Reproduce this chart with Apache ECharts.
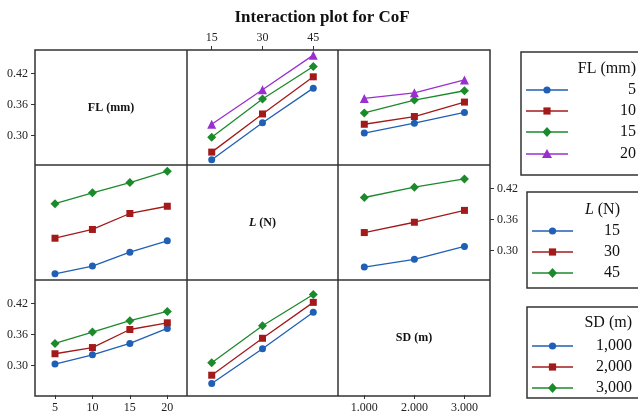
<!DOCTYPE html>
<html><head><meta charset="utf-8">
<script src="https://cdn.jsdelivr.net/npm/echarts@6/dist/echarts.min.js"></script>
<style>html,body{margin:0;padding:0;background:#fff}#c{width:638px;height:414px}</style>
</head><body><div id="c"></div>
<script>
// ---- data ----
const FL = [5, 10, 15, 20];
const L = [15, 30, 45];
const SD = [1000, 2000, 3000];
const yTicks = [0.30, 0.36, 0.42];
const flNames = ['5', '10', '15', '20'];
const lNames = ['15', '30', '45'];
const sdNames = ['1,000', '2,000', '3,000'];
const sdTickLabels = ['1.000', '2.000', '3.000'];

// Row 1: traces by FL
const cofFLvsL = [
  [0.253, 0.325, 0.392],
  [0.268, 0.342, 0.414],
  [0.297, 0.371, 0.434],
  [0.322, 0.389, 0.456]
];
const cofFLvsSD = [
  [0.305, 0.324, 0.345],
  [0.322, 0.337, 0.365],
  [0.344, 0.369, 0.387],
  [0.372, 0.383, 0.408]
];
// Row 2: traces by L
const cofLvsFL = [
  [0.255, 0.270, 0.297, 0.319],
  [0.324, 0.341, 0.372, 0.386],
  [0.391, 0.412, 0.432, 0.454]
];
const cofLvsSD = [
  [0.268, 0.283, 0.308],
  [0.335, 0.355, 0.378],
  [0.403, 0.423, 0.439]
];
// Row 3: traces by SD
const cofSDvsFL = [
  [0.303, 0.321, 0.343, 0.372],
  [0.323, 0.335, 0.370, 0.383],
  [0.343, 0.365, 0.387, 0.405]
];
const cofSDvsL = [
  [0.267, 0.334, 0.404],
  [0.283, 0.354, 0.423],
  [0.307, 0.378, 0.438]
];

// ---- styling / layout ----
const colors = ['#1f5fb5', '#a31a1a', '#1b8a2b', '#9a2fd0'];
const symbols = ['circle', 'rect', 'diamond', 'triangle'];
const symSizes = [7, 7, 9, 9];
const SERIF = 'Liberation Serif, Times New Roman, serif';
const colEdges = [35, 187, 338, 490];
const rowEdges = [50, 165, 280, 396];
const yMin = 0.243, yMax = 0.466;
const colAxes = [
  { min: 2.33, max: 22.63, ticks: FL, fmt: v => String(v) },
  { min: 7.7, max: 52.3, ticks: L, fmt: v => String(v) },
  { min: 475, max: 3510, ticks: SD, fmt: v => sdTickLabels[SD.indexOf(v)] }
];
const colX = [FL, L, SD];
const cellData = {
  '0,1': cofFLvsL, '0,2': cofFLvsSD,
  '1,0': cofLvsFL, '1,2': cofLvsSD,
  '2,0': cofSDvsFL, '2,1': cofSDvsL
};
const rowNames = [flNames, lNames, sdNames];
const rowVar = ['FL', 'L', 'SD'];

const grids = [], xAxes = [], yAxes = [], series = [];
for (let r = 0; r < 3; r++) {
  for (let c = 0; c < 3; c++) {
    const g = r * 3 + c;
    grids.push({
      left: colEdges[c], top: rowEdges[r],
      width: colEdges[c + 1] - colEdges[c], height: rowEdges[r + 1] - rowEdges[r],
      containLabel: false
    });
    const showX = (r === 0 && c === 1) || (r === 2 && c !== 1);
    const ca = colAxes[c];
    xAxes.push({
      gridIndex: g, type: 'value', min: ca.min, max: ca.max,
      position: (r === 0 && c === 1) ? 'top' : 'bottom',
      axisLine: { show: false }, splitLine: { show: false },
      axisTick: { show: showX, customValues: ca.ticks, length: 4, lineStyle: { color: '#333', width: 1 } },
      axisLabel: { show: showX, customValues: ca.ticks, margin: (r === 0) ? 6 : 7,
        fontFamily: SERIF, fontSize: 12, color: '#222', formatter: ca.fmt }
    });
    const showY = (r === 0 && c === 0) || (r === 1 && c === 2) || (r === 2 && c === 0);
    yAxes.push({
      gridIndex: g, type: 'value', min: yMin, max: yMax,
      position: r === 1 ? 'right' : 'left',
      axisLine: { show: false }, splitLine: { show: false },
      axisTick: { show: showY, customValues: yTicks, length: 4, lineStyle: { color: '#333', width: 1 } },
      axisLabel: { show: showY, customValues: yTicks, margin: 7,
        fontFamily: SERIF, fontSize: 12, color: '#222', formatter: v => v.toFixed(2) }
    });
    const d = cellData[r + ',' + c];
    if (d) {
      d.forEach((vals, k) => {
        series.push({
          type: 'line', xAxisIndex: g, yAxisIndex: g,
          name: rowVar[r] + ' ' + rowNames[r][k],
          data: colX[c].map((x, i) => [x, vals[i]]),
          symbol: symbols[k], symbolSize: symSizes[k],
          itemStyle: { color: colors[k] },
          lineStyle: { color: colors[k], width: 1.3 },
          animation: false
        });
      });
    }
  }
}

// ---- graphics: frame, diagonal labels, legends ----
const graphic = [];
const frameStyle = { stroke: '#333', lineWidth: 1.5, fill: null };
graphic.push({ type: 'rect', shape: { x: colEdges[0], y: rowEdges[0], width: colEdges[3] - colEdges[0], height: rowEdges[3] - rowEdges[0] }, style: frameStyle });
[1, 2].forEach(i => {
  graphic.push({ type: 'line', shape: { x1: colEdges[i], y1: rowEdges[0], x2: colEdges[i], y2: rowEdges[3] }, style: frameStyle });
  graphic.push({ type: 'line', shape: { x1: colEdges[0], y1: rowEdges[i], x2: colEdges[3], y2: rowEdges[i] }, style: frameStyle });
});
graphic.push({ type: 'text', style: { text: 'Interaction plot for CoF', x: 322, y: 18, textAlign: 'center', textVerticalAlign: 'middle', font: 'bold 17px ' + SERIF, fill: '#111' } });
const diagLabels = [
  { text: 'FL (mm)', rich: null },
  { text: '{i|L} (N)', rich: { i: { fontStyle: 'italic', fontWeight: 'bold', fontSize: 12, fontFamily: SERIF, fill: '#111' } } },
  { text: 'SD (m)', rich: null }
];
diagLabels.forEach((dl, i) => {
  const st = {
    text: dl.text, x: (colEdges[i] + colEdges[i + 1]) / 2, y: (rowEdges[i] + rowEdges[i + 1]) / 2,
    textAlign: 'center', textVerticalAlign: 'middle', font: 'bold 12px ' + SERIF, fill: '#111'
  };
  if (dl.rich) st.rich = dl.rich;
  graphic.push({ type: 'text', style: st });
});

function marker(k, cx, cy, color) {
  const s = 3.6;
  if (k === 0) return { type: 'circle', shape: { cx, cy, r: s }, style: { fill: color } };
  if (k === 1) return { type: 'rect', shape: { x: cx - s, y: cy - s, width: 2 * s, height: 2 * s }, style: { fill: color } };
  if (k === 2) return { type: 'polygon', shape: { points: [[cx, cy - 5], [cx + 4.5, cy], [cx, cy + 5], [cx - 4.5, cy]] }, style: { fill: color } };
  return { type: 'polygon', shape: { points: [[cx, cy - 5], [cx + 5, cy + 4], [cx - 5, cy + 4]] }, style: { fill: color } };
}
const legends = [
  { box: [521, 52, 130, 123], title: 'FL (mm)', titleRich: null, titleY: 69, names: flNames, ys: [90, 111, 132, 154], lx: [526, 568], tx: 636 },
  { box: [527, 192, 130, 96], title: '{i|L} (N)', titleRich: { i: { fontStyle: 'italic', fontSize: 16, fontFamily: SERIF, fill: '#111' } }, titleY: 210, names: lNames, ys: [231, 252, 273], lx: [532, 573], tx: 620 },
  { box: [527, 307, 130, 91], title: 'SD (m)', titleRich: null, titleY: 323, names: sdNames, ys: [346, 367, 388], lx: [532, 573], tx: 632 }
];
legends.forEach(lg => {
  graphic.push({ type: 'rect', shape: { x: lg.box[0], y: lg.box[1], width: lg.box[2], height: lg.box[3] }, style: { stroke: '#333', lineWidth: 1.5, fill: '#fff' } });
  const ts = { text: lg.title, x: lg.tx, y: lg.titleY, textAlign: 'right', textVerticalAlign: 'middle', font: '16px ' + SERIF, fill: '#111' };
  if (lg.titleRich) ts.rich = lg.titleRich;
  graphic.push({ type: 'text', style: ts });
  lg.names.forEach((nm, k) => {
    const y = lg.ys[k];
    graphic.push({ type: 'line', shape: { x1: lg.lx[0], y1: y, x2: lg.lx[1], y2: y }, style: { stroke: colors[k], lineWidth: 1.3 } });
    graphic.push(marker(k, (lg.lx[0] + lg.lx[1]) / 2, y, colors[k]));
    graphic.push({ type: 'text', style: { text: nm, x: lg.tx, y, textAlign: 'right', textVerticalAlign: 'middle', font: '16px ' + SERIF, fill: '#111' } });
  });
});

const chart = echarts.init(document.getElementById('c'), null, { renderer: 'canvas' });
chart.setOption({
  animation: false,
  backgroundColor: '#fff',
  grid: grids, xAxis: xAxes, yAxis: yAxes, series,
  graphic
});
</script>
</body></html>
